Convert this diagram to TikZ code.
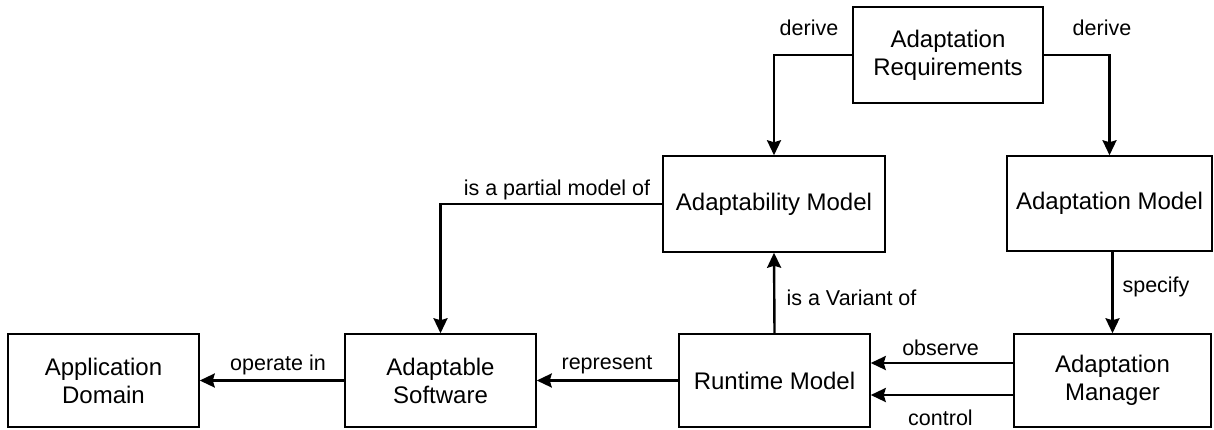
\documentclass[tikz,border=0pt]{standalone}
\usepackage{fontspec}
\setmainfont{Liberation Sans}
\usetikzlibrary{arrows.meta}
\begin{document}
\begin{tikzpicture}[x=1pt,y=-1pt,
  box/.style={draw, line width=1.5pt, align=center, font=\fontsize{24}{28}\selectfont, inner sep=0pt},
  lbl/.style={font=\fontsize{21.5}{26}\selectfont, inner sep=0pt},
  conn/.style={line width=2.4pt, -{Stealth[length=15pt,width=14pt,inset=2pt]}}]
\useasboundingbox (0,0) rectangle (1214,429);
\node[box, minimum width=190pt, minimum height=96pt] (ar) at (948,55) {Adaptation\\Requirements};
\node[box, minimum width=222pt, minimum height=96pt] (am) at (774,204) {Adaptability Model};
\node[box, minimum width=205pt, minimum height=95pt] (adm) at (1109.5,203.5) {Adaptation Model};
\node[box, minimum width=191pt, minimum height=93pt] (appd) at (103.5,380.5) {Application\\Domain};
\node[box, minimum width=191pt, minimum height=93pt] (as) at (440.5,380.5) {Adaptable\\Software};
\node[box, minimum width=191pt, minimum height=93pt] (rm) at (774.5,380.5) {Runtime Model};
\node[box, minimum width=197pt, minimum height=93pt] (amgr) at (1112.5,380.5) {Adaptation\\Manager};

\draw[conn] (ar.west) -| (am.north);
\draw[conn] (ar.east) -| (adm.north);
\draw[conn] (am.west) -| (as.north);
\draw[conn] (rm.north) -- (am.south);
\draw[conn] (adm.south -| amgr.north) -- (amgr.north);
\draw[conn] (as.west) -- (appd.east);
\draw[conn] (rm.west) -- (as.east);
\draw[conn] ([yshift=17.5pt]amgr.west) -- ([yshift=17.5pt]rm.east);
\draw[conn] ([yshift=-14.5pt]amgr.west) -- ([yshift=-14.5pt]rm.east);

\node[lbl] (l1) at (809,28) {derive};
\node[lbl] (l2) at (1102,28) {derive};
\node[lbl] (l3) at (557,190) {is a partial model of};
\node[lbl] (l4) at (851.5,298) {is a Variant of};
\node[lbl] (l5) at (1156,287) {specify};
\node[lbl] (l6) at (940.5,348) {observe};
\node[lbl] (l7) at (940.5,418) {control};
\node[lbl] (l8) at (607,365) {represent};
\node[lbl] (l9) at (278,365) {operate in};
\end{tikzpicture}
\end{document}
